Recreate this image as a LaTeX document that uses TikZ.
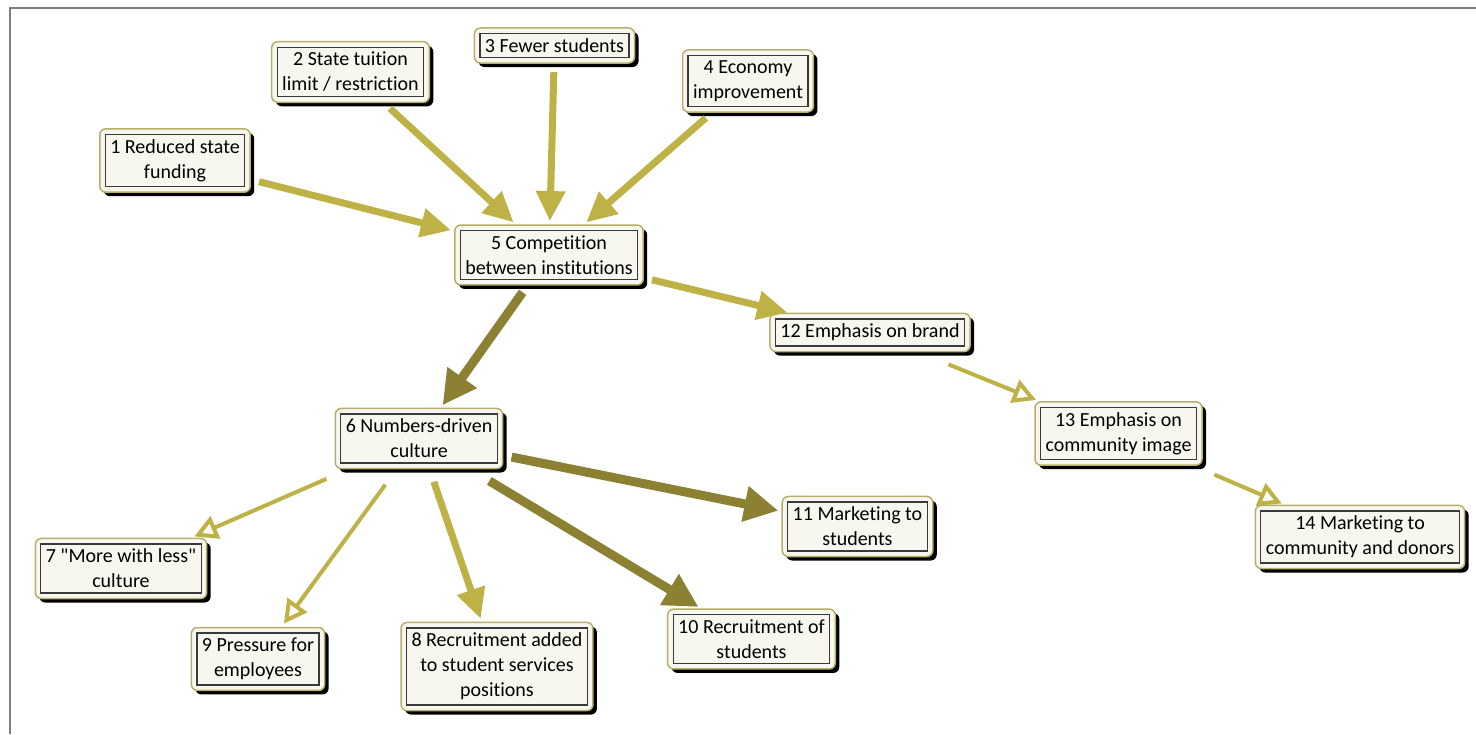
\documentclass[tikz,border=0pt]{standalone}
\usepackage{fontspec}
\setmainfont{Carlito}[Ligatures={TeXOff,NoCommon}]
\usetikzlibrary{arrows.meta,backgrounds,calc}

\definecolor{boxfill}{HTML}{F8F7EF}
\definecolor{boxrim}{HTML}{B8AE6C}
\definecolor{boxline}{HTML}{3A3A3A}
\definecolor{lightarrow}{HTML}{BEB246}
\definecolor{darkarrow}{HTML}{8C8032}
\definecolor{framegray}{HTML}{808080}

\tikzset{
  idea/.style={draw=boxline, line width=1.2pt, fill=boxfill, inner sep=5pt,
    outer sep=5.5pt, align=center, font=\fontsize{20pt}{25pt}\selectfont},
  lightlink/.style={draw=lightarrow, line width=7pt,
    -{Triangle[length=30pt,width=28pt]}, shorten <=9pt, shorten >=4pt},
  darklink/.style={draw=darkarrow, line width=9pt,
    -{Triangle[length=34pt,width=34pt]}, shorten <=9pt, shorten >=4pt},
  openlink/.style={draw=lightarrow, line width=4pt,
    -{Triangle[open,length=23pt,width=24pt]}, shorten <=9pt, shorten >=5pt},
}

\begin{document}
\begin{tikzpicture}[x=1pt,y=-1pt]
\useasboundingbox (0,0) rectangle (1476,734);
\draw[framegray, line width=2pt] (10,734) -- (10,8) -- (1476,8);

% idea boxes
\node[idea] (n1)  at (175,160.5) {1 Reduced state\\funding};
\node[idea] (n2)  at (350.5,72)  {2 State tuition\\limit / restriction};
\node[idea] (n3)  at (554.5,45.5) {3 Fewer students};
\node[idea] (n4)  at (748,81)    {4 Economy\\improvement};
\node[idea] (n5)  at (549,255)   {5 Competition\\between institutions};
\node[idea] (n6)  at (419,438.5) {6 Numbers-driven\\culture};
\node[idea] (n7)  at (121,568.5) {7 "More with less"\\culture};
\node[idea] (n8)  at (497,666.5) {8 Recruitment added\\to student services\\positions};
\node[idea] (n9)  at (258,659)   {9 Pressure for\\employees};
\node[idea] (n10) at (751.5,639) {10 Recruitment of\\students};
\node[idea] (n11) at (857.5,526.5) {11 Marketing to\\students};
\node[idea] (n12) at (870,332.5) {12 Emphasis on brand};
\node[idea] (n13) at (1118.5,433.5) {13 Emphasis on\\community image};
\node[idea] (n14) at (1360,537)  {14 Marketing to\\community and donors};

% rims and drop shadows behind the boxes
\begin{pgfonlayer}{background}
\foreach \n in {n1,n2,n3,n4,n5,n6,n7,n8,n9,n10,n11,n12,n13,n14}{
  \fill[black, rounded corners=6pt] ($(\n.north west)+(4,4)$) rectangle ($(\n.south east)+(4,4)$);
  \draw[boxrim, fill=boxfill, line width=1.5pt, rounded corners=6pt]
    (\n.north west) rectangle (\n.south east);
}
\end{pgfonlayer}

% links
\draw[lightlink] (n1) -- (n5);
\draw[lightlink] (n2) -- (n5);
\draw[lightlink] (n3) -- (n5);
\draw[lightlink] (n4) -- (n5);
\draw[lightlink] (n5) -- (n12);
\draw[darklink]  (n5) -- (n6);
\draw[openlink, shorten <=34pt] (n12) -- (n13);
\draw[openlink, shorten <=24pt] (n13) -- (n14);
\draw[openlink, shorten <=26pt] (n6) -- (n7);
\draw[openlink, shorten <=20pt] (n6) -- (n9);
\draw[lightlink, shorten <=14pt] (n6) -- (n8);
\draw[darklink, shorten <=24pt]  (n6) -- (n10);
\draw[darklink]  (n6) -- (n11);
\end{tikzpicture}
\end{document}
